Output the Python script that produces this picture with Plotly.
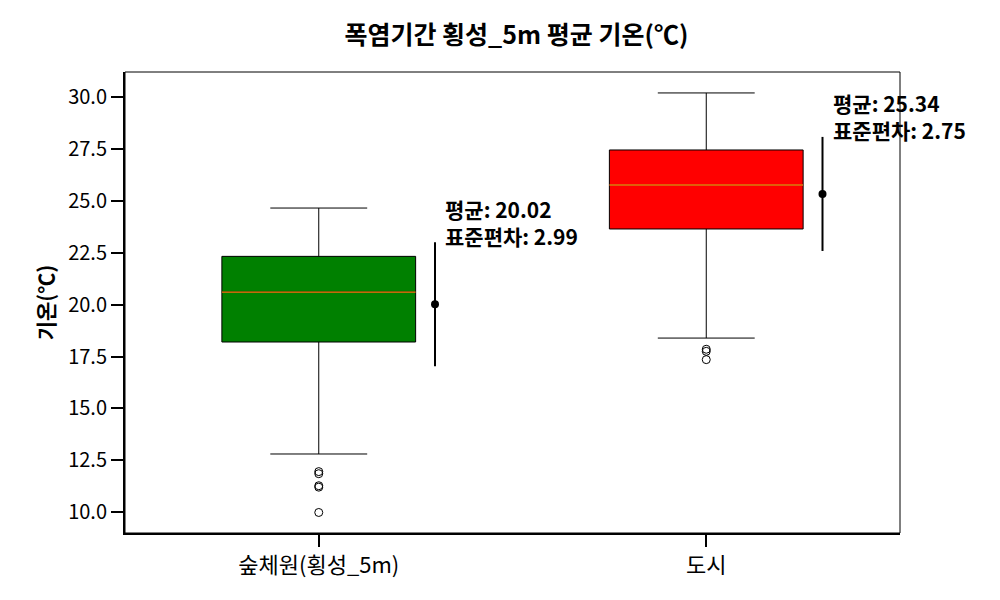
import plotly.graph_objects as go

# ---- data ----
categories = ["숲체원(횡성_5m)", "도시"]
positions = [0, 1]
q1 = [18.20, 23.65]
median = [20.61, 25.77]
q3 = [22.33, 27.46]
lower_whisker = [12.80, 18.39]
upper_whisker = [24.66, 30.21]
outliers = [[11.95, 11.85, 11.27, 11.20, 9.98], [17.85, 17.75, 17.35]]
means = [20.02, 25.34]
stds = [2.99, 2.75]
box_colors = ["#008000", "#ff0000"]
y_ticks = [10.0, 12.5, 15.0, 17.5, 20.0, 22.5, 25.0, 27.5, 30.0]

FONT = "Noto Sans CJK KR"
BOX_W = 0.5
ERR_OFF = 0.3

fig = go.Figure()

for i, pos in enumerate(positions):
    fig.add_trace(go.Box(
        x=[pos], q1=[q1[i]], median=[median[i]], q3=[q3[i]],
        lowerfence=[lower_whisker[i]], upperfence=[upper_whisker[i]],
        width=BOX_W, whiskerwidth=0.5, fillcolor=box_colors[i],
        line=dict(color="black", width=1), boxpoints=False,
        showlegend=False, hoverinfo="skip",
    ))
    # median line (orange)
    fig.add_trace(go.Scatter(
        x=[pos - BOX_W / 2, pos + BOX_W / 2], y=[median[i], median[i]],
        mode="lines", line=dict(color="#ff7f0e", width=1.3),
        showlegend=False, hoverinfo="skip",
    ))
    # outliers
    fig.add_trace(go.Scatter(
        x=[pos] * len(outliers[i]), y=outliers[i], mode="markers",
        marker=dict(symbol="circle-open", size=8, color="black", line=dict(width=1)),
        showlegend=False, hoverinfo="skip",
    ))
    # mean +- std
    fig.add_trace(go.Scatter(
        x=[pos + ERR_OFF], y=[means[i]], mode="markers",
        marker=dict(symbol="circle", size=8, color="black"),
        error_y=dict(type="data", array=[stds[i]], symmetric=True,
                     color="black", thickness=2, width=0),
        showlegend=False, hoverinfo="skip",
    ))
    fig.add_annotation(
        x=pos + ERR_OFF, y=means[i] + stds[i],
        text=f"<b>평균: {means[i]:.2f}<br>표준편차: {stds[i]:.2f}</b>",
        showarrow=False, xanchor="left", yanchor="middle", align="left",
        xshift=8, yshift=20,
        font=dict(family=FONT, size=21, color="black"),
    )

# top/right thin frame
fig.add_shape(type="rect", xref="paper", yref="paper", x0=0, x1=1, y0=0, y1=1,
              line=dict(color="black", width=1), layer="above")

fig.update_layout(
    width=992, height=592,
    paper_bgcolor="white", plot_bgcolor="white",
    margin=dict(l=117, r=100, t=64, b=67),
    title=dict(text="<b>폭염기간 횡성_5m 평균 기온(℃)</b>", x=0.5125, xanchor="center",
               y=0.954, yanchor="middle", font=dict(family=FONT, size=25, color="black")),
    font=dict(family=FONT, color="black"),
    xaxis=dict(range=[-0.5, 1.5], tickvals=positions, ticktext=categories,
               showgrid=False, zeroline=False, showline=True, linecolor="black", linewidth=2,
               ticks="outside", ticklen=12, tickwidth=2, tickcolor="black",
               tickfont=dict(family=FONT, size=22, color="black")),
    yaxis=dict(range=[8.99, 31.22], tickvals=y_ticks, tickformat=".1f",
               showgrid=False, zeroline=False, showline=True, linecolor="black", linewidth=2,
               ticks="outside", ticklen=12, tickwidth=2, tickcolor="black",
               tickfont=dict(family=FONT, size=20, color="black"),
               title=dict(text="<b>기온(℃)</b>", standoff=8,
                          font=dict(family=FONT, size=21, color="black"))),
)

fig.write_html("out.html")
